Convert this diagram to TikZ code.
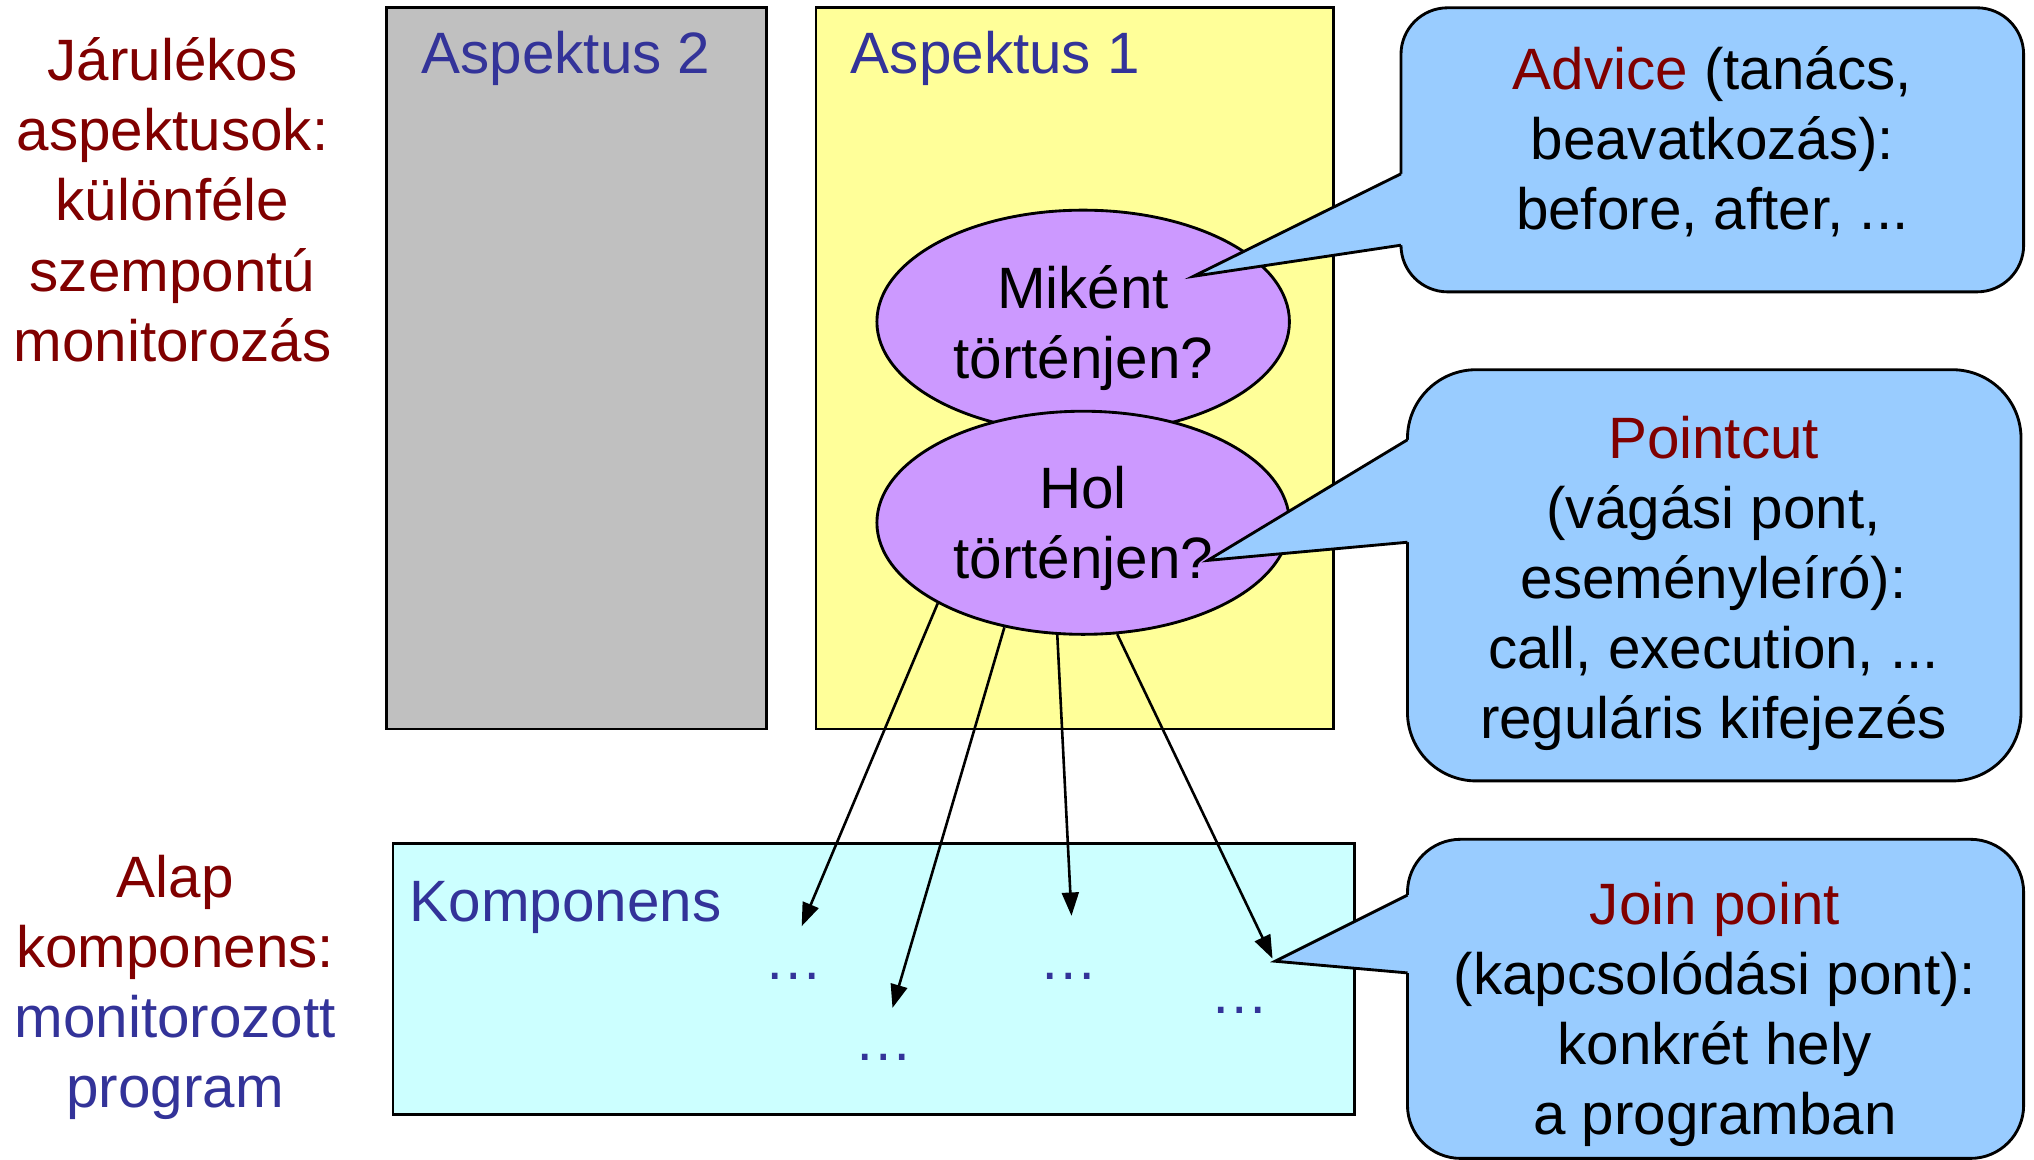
\documentclass[tikz,border=0pt]{standalone}
\usepackage{fontspec}
\setmainfont{Liberation Sans}
\usetikzlibrary{arrows.meta,shapes.geometric}
\definecolor{dred}{RGB}{128,0,0}
\definecolor{dblue}{RGB}{51,51,153}
\definecolor{grayfill}{RGB}{192,192,192}
\definecolor{yelfill}{RGB}{255,255,153}
\definecolor{purfill}{RGB}{204,153,255}
\definecolor{cyanfill}{RGB}{204,255,255}
\definecolor{callfill}{RGB}{153,204,255}
\begin{document}
\begin{tikzpicture}[x=1pt,y=-1pt,
  txt/.style={font=\fontsize{45}{54}\selectfont, inner sep=0pt, outer sep=0pt, align=center},
  lbl/.style={font=\fontsize{45}{54}\selectfont, inner sep=0pt, outer sep=0pt, text=dblue, anchor=base west},
  panel/.style={draw=black, line width=2.2pt, inner sep=0pt, outer sep=0pt},
  bubble/.style={ellipse, draw=black, line width=2.2pt, fill=purfill,
    minimum width=318pt, minimum height=172pt, inner sep=0pt,
    font=\fontsize{45}{54}\selectfont, align=center, text depth=0pt},
  dots/.style={font=\fontsize{45}{54}\selectfont, inner sep=0pt, text=dblue},
  conn/.style={line width=2pt, -{Triangle[length=18pt,width=13pt]}},
  cbox/.style={draw=black, line width=2.2pt, fill=callfill},
  wedge/.style={draw=black, line width=2.2pt},
]
\useasboundingbox[fill=white] (0,0) rectangle (1568,894);

% left labels
\node[txt, text=dred] (jarulekos) at (133,154) {Járulékos\\aspektusok:\\különféle\\szempontú\\monitorozás};
\node[txt] (alap) at (135,761) {\textcolor{dred}{Alap}\\\textcolor{dred}{komponens:}\\\textcolor{dblue}{monitorozott}\\\textcolor{dblue}{program}};

% aspect panels
\node[panel, fill=grayfill, minimum width=293pt, minimum height=556pt] (asp2) at (444.5,284) {};
\node[lbl] (asp2lbl) at (325,57) {Aspektus 2};
\node[panel, fill=yelfill, minimum width=399pt, minimum height=556pt] (asp1) at (828.5,284) {};
\node[lbl] (asp1lbl) at (656,57) {Aspektus 1};

% ellipses
\node[bubble] (mikent) at (835,248) {Miként\\történjen?};
\node[bubble] (hol) at (835,403) {Hol\\történjen?};

% component box
\node[panel, fill=cyanfill, minimum width=741pt, minimum height=209pt] (komp) at (673.5,754.5) {};
\node[lbl] (komplbl) at (316,710) {Komponens};

% dots
\node[dots] (d1) at (612,753) {…};
\node[dots] (d2) at (681,815) {…};
\node[dots] (d3) at (824,753) {…};
\node[dots] (d4) at (956,779) {…};

% arrow ends
\coordinate (e1) at (618,714);
\coordinate (e2) at (688,777);
\coordinate (e3) at (826,706);
\coordinate (e4) at (981,739);
\draw[conn] (hol.209.8) -- (e1);
\draw[conn] (hol.233.7) -- (e2);
\draw[conn] (hol.257.3) -- (e3);
\draw[conn] (hol.287.4) -- (e4);

% callout: Advice
\coordinate (advtip) at (920,213);
\draw[cbox, rounded corners=36pt] (1080,6) rectangle (1560,225);
\fill[callfill] (advtip) -- (1080,134) -- (1086,134) -- (1086,189) -- (1080,189) -- cycle;
\draw[wedge] (1080,134) -- (advtip) -- (1080,189);
\node[txt] (advice) at (1320,109) {\textcolor{dred}{Advice} (tanács,\\beavatkozás):\\before, after, ...};

% callout: Pointcut
\coordinate (pctip) at (931,432);
\draw[cbox, rounded corners=53pt] (1085,285) rectangle (1558,602);
\fill[callfill] (pctip) -- (1085,339) -- (1091,339) -- (1091,418) -- (1085,418) -- cycle;
\draw[wedge] (1085,339) -- (pctip) -- (1085,418);
\node[txt] (pointcut) at (1321,450) {\textcolor{dred}{Pointcut}\\(vágási pont,\\eseményleíró):\\call, execution, ...\\reguláris kifejezés};

% callout: Join point
\coordinate (jptip) at (983,741);
\draw[cbox, rounded corners=41pt] (1085,647) rectangle (1560,893);
\fill[callfill] (jptip) -- (1085,690) -- (1091,690) -- (1091,750) -- (1085,750) -- cycle;
\draw[wedge] (1085,690) -- (jptip) -- (1085,750);
\node[txt] (joinpoint) at (1322,782) {\textcolor{dred}{Join point}\\(kapcsolódási pont):\\konkrét hely\\a programban};
\end{tikzpicture}
\end{document}
